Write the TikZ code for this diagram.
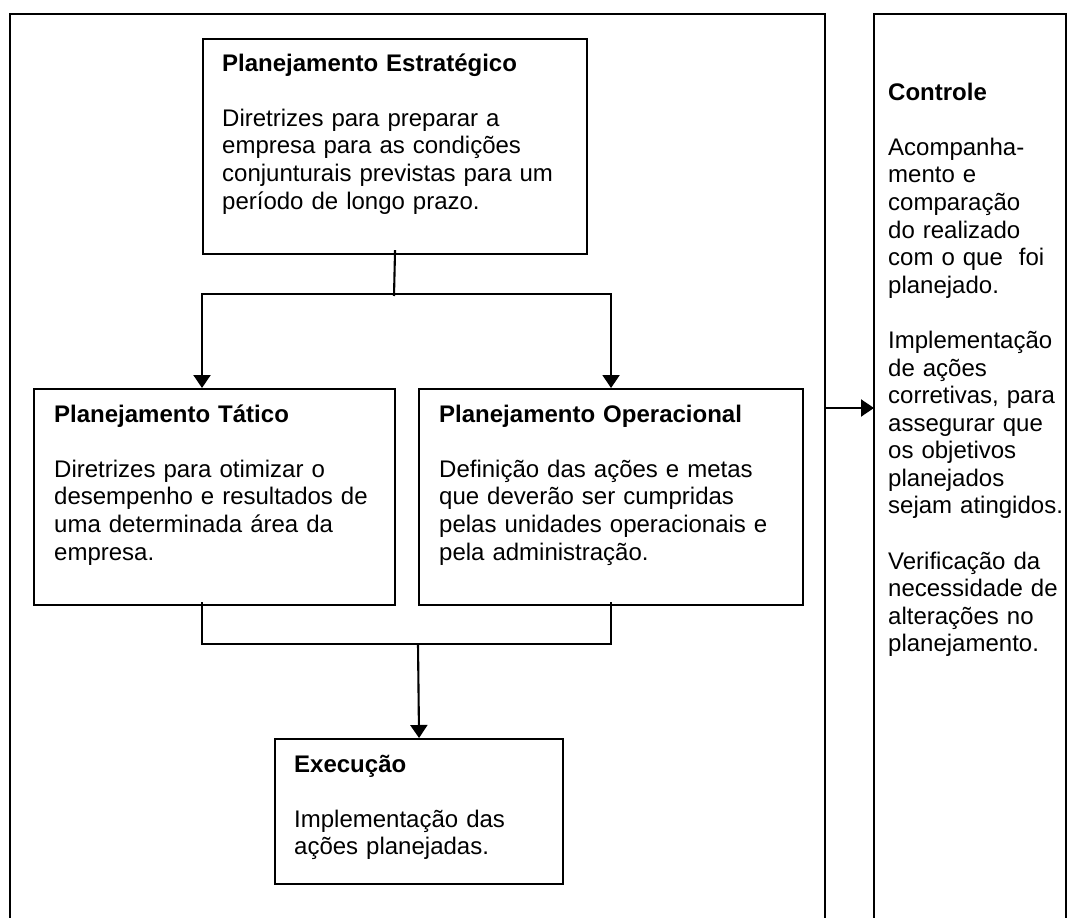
\documentclass[tikz,border=0pt]{standalone}
\usepackage{fontspec}
\setmainfont{Liberation Sans}
\usetikzlibrary{arrows.meta,calc}
\begin{document}
\begin{tikzpicture}[x=1pt,y=-1pt,
  ln/.style={line width=2.1pt, draw=black},
  boxnode/.style={draw=black, line width=2.1pt, rectangle, inner sep=0pt, anchor=north west},
  framenode/.style={draw=none, rectangle, inner sep=0pt, outer sep=0pt, anchor=north west},
  txt/.style={anchor=base west, inner sep=0pt, align=left, font=\fontsize{24}{27.6}\selectfont},
  arr/.style={line width=2.1pt, -{Triangle[length=13pt,width=17pt]}},
]
\useasboundingbox (0,0) rectangle (1077,918);

% frames (open at the bottom)
\node[framenode, minimum width=815pt, minimum height=904pt] (planframe) at (10,14) {};
\node[framenode, minimum width=192pt, minimum height=904pt] (ctrlframe) at (874,14) {};
\draw[ln] (planframe.south west) -- (planframe.north west) -- (planframe.north east) -- (planframe.south east);
\draw[ln] (ctrlframe.south west) -- (ctrlframe.north west) -- (ctrlframe.north east) -- (ctrlframe.south east);

% boxes
\node[boxnode, minimum width=384pt, minimum height=215pt] (se) at (202,38) {};
\node[boxnode, minimum width=361pt, minimum height=216pt] (pt) at (33,388) {};
\node[boxnode, minimum width=384pt, minimum height=216pt] (po) at (418,388) {};
\node[boxnode, minimum width=288pt, minimum height=145pt] (ex) at (274,738) {};

% texts
\node[txt, text width=360pt] (setxt) at ($(se.north west)+(20,33)$)
  {\textbf{Planejamento Estratégico}\\[27.6pt]
   Diretrizes para preparar a\\
   empresa para as condições\\
   conjunturais previstas para um\\
   período de longo prazo.};
\node[txt, text width=340pt] (pttxt) at ($(pt.north west)+(21,34)$)
  {\textbf{Planejamento Tático}\\[27.6pt]
   Diretrizes para otimizar o\\
   desempenho e resultados de\\
   uma determinada área da\\
   empresa.};
\node[txt, text width=370pt] (potxt) at ($(po.north west)+(21,34)$)
  {\textbf{Planejamento Operacional}\\[27.6pt]
   Definição das ações e metas\\
   que deverão ser cumpridas\\
   pelas unidades operacionais e\\
   pela administração.};
\node[txt, text width=270pt] (extxt) at ($(ex.north west)+(20,34)$)
  {\textbf{Execução}\\[27.6pt]
   Implementação das\\
   ações planejadas.};
\node[txt, text width=190pt] (ctrltxt) at ($(ctrlframe.north west)+(14,86)$)
  {\textbf{Controle}\\[27.6pt]
   Acompanha-\\
   mento e\\
   comparação\\
   do realizado\\
   com o que\ \ foi\\
   planejado.\\[27.6pt]
   Implementação\\
   de ações\\
   corretivas, para\\
   assegurar que\\
   os objetivos\\
   planejados\\
   sejam atingidos.\\[27.6pt]
   Verificação da\\
   necessidade de\\
   alterações no\\
   planejamento.};

% connectors
\coordinate (j1) at (394,294);
\coordinate (j2) at (418,644);
\coordinate (ca) at (850,408);
\draw[ln] ($(se.south)+(0,-5)$) -- ($(j1)+(0,2)$);
\draw[arr] (j1) -| (se.west |- pt.north);
\draw[arr] (j1) -| (po.north);
\draw[ln] ($(se.west |- pt.south)+(0,-4)$) |- (po.south |- j2) -- ($(po.south)+(0,-4)$);
\draw[arr] (j2) -- (ex.north);
\draw[arr] (planframe.east |- ca) -- (ctrlframe.west |- ca);
\end{tikzpicture}
\end{document}
